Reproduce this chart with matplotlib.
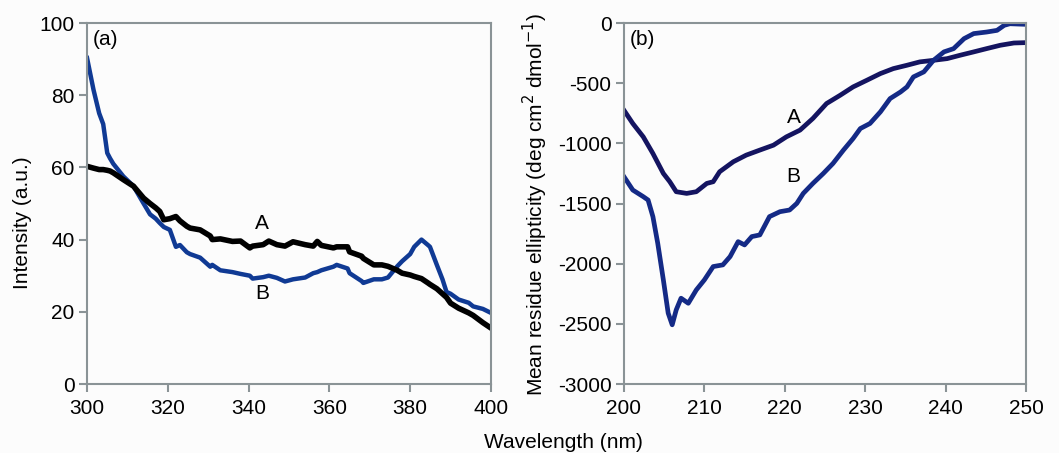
import numpy as np
import matplotlib.pyplot as plt

plt.rcParams['font.family'] = ['Liberation Sans', 'DejaVu Sans']
plt.rcParams['axes.unicode_minus'] = False

# (a) fluorescence spectra
wl_a = [300, 301.6, 303, 304, 305, 305.7, 306.5, 309, 311.5, 314, 315.6, 317, 318, 319,
        320.5, 322, 323, 324.7, 325.5, 328, 330.5, 331, 333, 336, 338, 340.3, 341, 343.6,
        345, 347, 349, 351, 354, 356, 357, 358, 361, 361.8, 364.5, 365, 368, 368.4, 371,
        373, 374.5, 376.8, 378, 380, 381, 382.8, 384.4, 384.9, 386.6, 388, 389, 390, 392,
        394.5, 395.6, 398, 400]
int_A = [60.3, 59.8, 59.4, 59.4, 59.2, 59.0, 58.5, 56.6, 54.8, 51.5, 50.0, 48.8, 47.8, 45.5,
         45.8, 46.4, 45.2, 43.7, 43.2, 42.7, 41.0, 40.0, 40.2, 39.5, 39.6, 37.7, 38.2, 38.6,
         39.6, 38.6, 38.2, 39.4, 38.6, 38.2, 39.5, 38.4, 37.7, 38.0, 38.0, 36.6, 35.4, 34.8,
         33.0, 33.0, 32.6, 31.5, 30.7, 30.2, 29.8, 29.2, 28.0, 27.6, 26.4, 25.0, 24.0, 22.4,
         21.0, 19.7, 19.0, 17.0, 15.5]
int_B = [90.3, 81.5, 75.0, 72.0, 64.0, 62.5, 61.0, 57.5, 54.8, 50.0, 47.0, 45.8, 44.6, 43.5,
         42.7, 38.0, 38.5, 36.5, 36.0, 35.0, 32.5, 33.0, 31.5, 31.0, 30.5, 30.0, 29.2, 29.6,
         30.0, 29.4, 28.4, 29.0, 29.5, 30.7, 31.0, 31.5, 32.5, 33.0, 32.0, 30.7, 28.5, 28.0,
         29.0, 29.0, 29.5, 32.6, 34.0, 36.0, 38.0, 40.0, 38.5, 38.0, 33.0, 29.0, 25.5, 25.0,
         23.4, 22.5, 21.5, 20.8, 19.7]

# (b) CD spectra
wl_cd_A = [200, 201.1, 202.4, 203.6, 204.9, 205.7, 206.5, 207.8, 209, 210.3, 211.1, 211.9,
           213.6, 215.2, 216.9, 218.6, 220.2, 221.9, 223.5, 225.2, 226.9, 228.5, 230.2,
           231.9, 233.5, 235.2, 236.8, 238.5, 240.2, 241.8, 243.5, 245.1, 246.8, 248.5, 250]
mre_A = [-725, -835, -946, -1084, -1250, -1319, -1402, -1416, -1402, -1333, -1319, -1236,
         -1153, -1098, -1056, -1015, -946, -890, -793, -669, -600, -531, -476,
         -420, -379, -351, -323, -310, -296, -268, -240, -213, -185, -166, -163]
wl_cd_B = [200, 201.1, 202.4, 203, 203.6, 204.2, 204.9, 205.5, 206, 206.5, 207.1, 208, 209,
           210, 211.1, 212.3, 213.2, 214.2, 215, 215.9, 216.9, 218.1, 219.4, 220.6, 221.5,
           222.3, 223.5, 224.8, 226, 227.3, 228.5, 229.4, 230.6, 231.9, 233.1, 234.4, 235.2,
           236, 237.3, 238.5, 239.8, 241, 242.3, 243.5, 245.1, 246.4, 247.3, 248, 250]
mre_B = [-1277, -1388, -1443, -1471, -1609, -1830, -2135, -2411, -2508, -2384, -2287, -2329,
         -2218, -2135, -2024, -2010, -1941, -1817, -1844, -1775, -1761, -1609, -1568, -1554,
         -1499, -1416, -1333, -1250, -1167, -1056, -960, -877, -835, -738, -628, -573, -531,
         -448, -406, -310, -240, -213, -130, -88, -75, -61, -19, -6, -11]

fs = 15
fig = plt.figure(figsize=(10.59, 4.53), dpi=100)
fig.patch.set_facecolor('#fcfcfc')
ax1 = fig.add_axes([0.0822, 0.1523, 0.3814, 0.7969])
ax2 = fig.add_axes([0.5892, 0.1523, 0.3796, 0.7969])

spine_col = '#8a9396'
for ax in (ax1, ax2):
    ax.set_facecolor('#fcfcfc')
    for s in ax.spines.values():
        s.set_color(spine_col)
        s.set_linewidth(1.5)
    ax.tick_params(direction='out', length=6, width=1.5, color=spine_col,
                   labelsize=fs, pad=3)
    ax.tick_params(axis='x', pad=5)

ax1.plot(wl_a, int_B, color='#103a94', lw=3.2)
ax1.plot(wl_a, int_A, color='black', lw=4.0)
ax1.set_xlim(300, 400)
ax1.set_ylim(0, 100)
ax1.set_xticks(np.arange(300, 401, 20))
ax1.set_yticks(np.arange(0, 101, 20))
ax1.text(343.3, 44.6, 'A', fontsize=fs, ha='center', va='center')
ax1.text(343.3, 25.2, 'B', fontsize=fs, ha='center', va='center')
ax1.text(0.015, 0.955, '(a)', transform=ax1.transAxes, fontsize=fs, va='center')

ax2.plot(wl_cd_A, mre_A, color='#141460', lw=3.4)
ax2.plot(wl_cd_B, mre_B, color='#142a86', lw=3.4)
ax2.set_xlim(200, 250)
ax2.set_ylim(-3000, 0)
ax2.set_xticks(np.arange(200, 251, 10))
ax2.set_yticks(np.arange(-3000, 1, 500))
ax2.text(221.1, -785, 'A', fontsize=fs, ha='center', va='center')
ax2.text(221.1, -1277, 'B', fontsize=fs, ha='center', va='center')
ax2.text(0.015, 0.955, '(b)', transform=ax2.transAxes, fontsize=fs, va='center')

fig.text(23 / 1059, 1 - 223 / 453, 'Intensity (a.u.)', fontsize=fs,
         rotation=90, ha='center', va='center')
fig.text(535 / 1059, 1 - 204 / 453, 'Mean residue ellipticity (deg cm$^2$ dmol$^{-1}$)',
         fontsize=fs, rotation=90, ha='center', va='center')
fig.text(563 / 1059, 1 - 442 / 453, 'Wavelength (nm)', fontsize=fs,
         ha='center', va='center')

fig.savefig('out.png', dpi=100, facecolor=fig.get_facecolor())
